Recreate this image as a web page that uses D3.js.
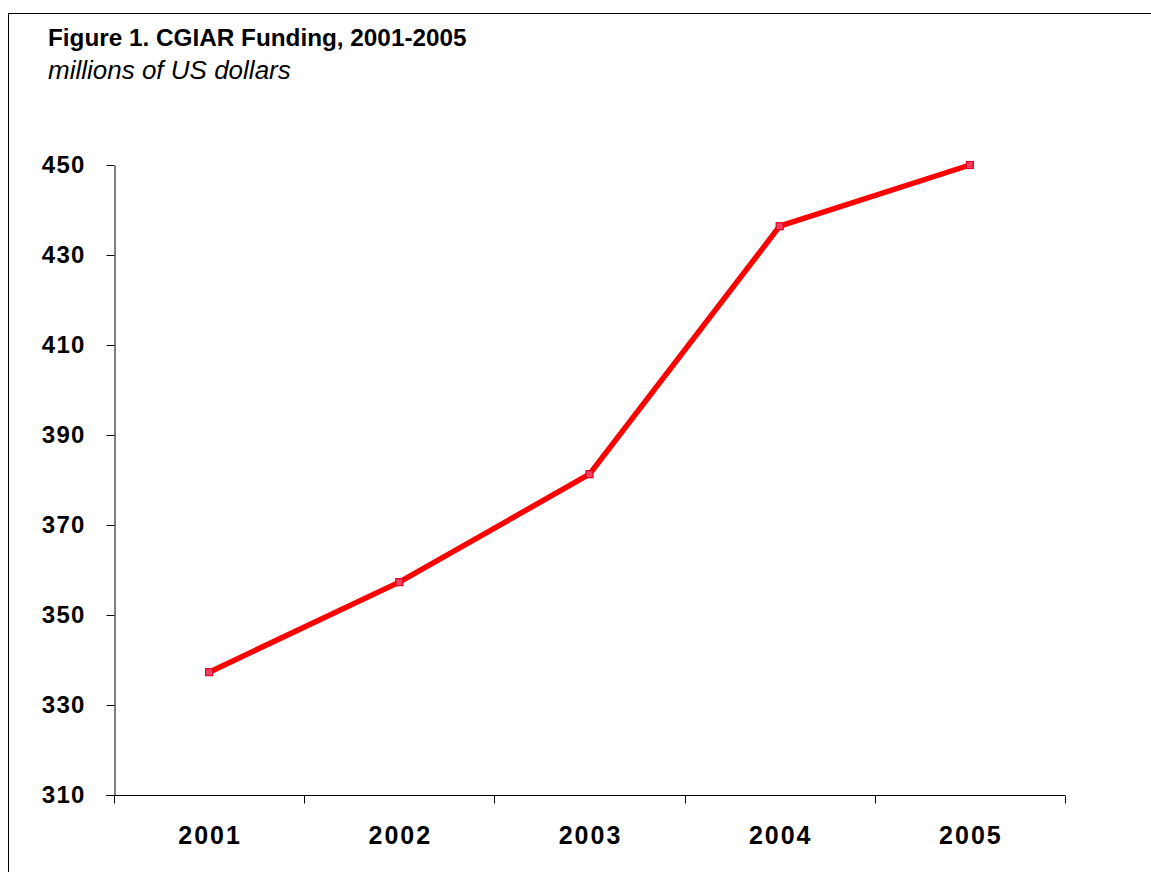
<!DOCTYPE html>
<html><head><meta charset="utf-8">
<script src="https://cdn.jsdelivr.net/npm/d3@7"></script>
<style>body{margin:0;background:#fff}svg{display:block}</style>
</head><body>
<svg id="c" width="1151" height="872"></svg>
<script>
const years = ["2001","2002","2003","2004","2005"];
const funding = [337.3, 357.3, 381.3, 436.4, 450];
const yTicks = [310,330,350,370,390,410,430,450];
const title = "Figure 1. CGIAR Funding, 2001-2005";
const subtitle = "millions of US dollars";

const FONT = "Liberation Sans, Arial, sans-serif";
const svg = d3.select("#c");
svg.append("rect").attr("x",8.5).attr("y",13.5).attr("width",1200).attr("height",900)
  .attr("fill","#fff").attr("stroke","#000").attr("stroke-width",1);

svg.append("text").attr("x",48).attr("y",46).text(title)
  .attr("font-family",FONT).attr("font-weight","bold").attr("font-size",24.3).attr("fill","#000");
svg.append("text").attr("x",48).attr("y",79).text(subtitle)
  .attr("font-family",FONT).attr("font-style","italic").attr("font-size",26).attr("fill","#000");

const x = d3.scaleBand().domain(years).range([114,1065]);
const y = d3.scaleLinear().domain([310,450]).range([795,165]);

const gy = svg.append("g").attr("transform","translate(114.5,0)")
  .call(d3.axisLeft(y).tickValues(yTicks).tickSize(8).tickPadding(21).tickSizeOuter(0));
gy.selectAll("text").attr("font-family",FONT).attr("font-weight","bold").attr("font-size",24)
  .attr("letter-spacing",1.2).attr("fill","#000");
gy.select(".domain").attr("stroke","#000");
gy.selectAll(".tick line").attr("stroke","#000");
gy.selectAll(".tick").filter(d=>d===310).select("line").remove();

const gx = svg.append("g").attr("transform","translate(0,795.5)");
gx.append("line").attr("x1",106).attr("x2",x.range()[1]).attr("y1",0).attr("y2",0).attr("stroke","#000");
const edges = years.map(d=>x(d)).concat([x.range()[1]]);
gx.selectAll("line.t").data(edges).enter().append("line").attr("class","t")
  .attr("x1",d=>Math.round(d)+0.5).attr("x2",d=>Math.round(d)+0.5).attr("y1",0).attr("y2",8).attr("stroke","#000");
gx.selectAll("text").data(years).enter().append("text")
  .attr("x",d=>x(d)+x.bandwidth()/2+1).attr("y",48).attr("text-anchor","middle").text(d=>d)
  .attr("font-family",FONT).attr("font-weight","bold").attr("font-size",25).attr("letter-spacing",2)
  .attr("fill","#000");

const pts = years.map((d,i)=>[x(d)+x.bandwidth()/2, y(funding[i])]);
svg.append("path").attr("d",d3.line()(pts)).attr("fill","none").attr("stroke","#ff0000")
  .attr("stroke-width",5.5).attr("stroke-linejoin","miter");
svg.selectAll("rect.m").data(pts).enter().append("rect").attr("class","m")
  .attr("x",d=>d[0]-3.5).attr("y",d=>d[1]-3.5).attr("width",7).attr("height",7)
  .attr("fill","#ff4060").attr("stroke","#e00020").attr("stroke-width",1.2);
</script>
</body></html>
